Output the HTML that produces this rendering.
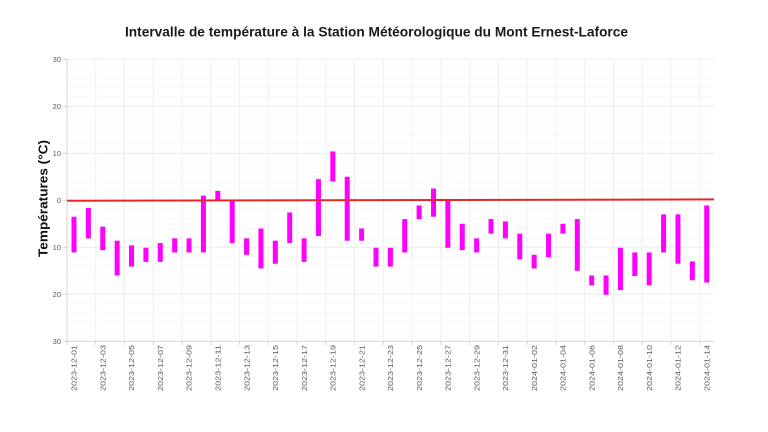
<!DOCTYPE html>
<html>
<head>
<meta charset="utf-8">
<style>
html,body{margin:0;padding:0;background:#fff;}
svg{display:block;}
text{font-family:"Liberation Sans", sans-serif;}
</style>
</head>
<body>
<svg width="768" height="432" viewBox="0 0 768 432" xmlns="http://www.w3.org/2000/svg">
<rect width="768" height="432" fill="#fff"/>
<!-- Title -->
<text x="376.5" y="36.5" text-anchor="middle" font-size="14" font-weight="bold" fill="#1a1a1a" textLength="503" lengthAdjust="spacingAndGlyphs">Intervalle de température à la Station Météorologique du Mont Ernest-Laforce</text>

<!-- minor horizontal grid -->
<g stroke="#f8f8f8" stroke-width="1">
<line x1="67" y1="68.7" x2="714" y2="68.7"/><line x1="67" y1="78.1" x2="714" y2="78.1"/><line x1="67" y1="87.5" x2="714" y2="87.5"/><line x1="67" y1="96.9" x2="714" y2="96.9"/>
<line x1="67" y1="115.7" x2="714" y2="115.7"/><line x1="67" y1="125.1" x2="714" y2="125.1"/><line x1="67" y1="134.5" x2="714" y2="134.5"/><line x1="67" y1="143.9" x2="714" y2="143.9"/>
<line x1="67" y1="162.7" x2="714" y2="162.7"/><line x1="67" y1="172.1" x2="714" y2="172.1"/><line x1="67" y1="181.5" x2="714" y2="181.5"/><line x1="67" y1="190.9" x2="714" y2="190.9"/>
<line x1="67" y1="209.7" x2="714" y2="209.7"/><line x1="67" y1="219.1" x2="714" y2="219.1"/><line x1="67" y1="228.5" x2="714" y2="228.5"/><line x1="67" y1="237.9" x2="714" y2="237.9"/>
<line x1="67" y1="256.7" x2="714" y2="256.7"/><line x1="67" y1="266.1" x2="714" y2="266.1"/><line x1="67" y1="275.5" x2="714" y2="275.5"/><line x1="67" y1="284.9" x2="714" y2="284.9"/>
<line x1="67" y1="303.7" x2="714" y2="303.7"/><line x1="67" y1="313.1" x2="714" y2="313.1"/><line x1="67" y1="322.5" x2="714" y2="322.5"/><line x1="67" y1="331.9" x2="714" y2="331.9"/>
</g>
<!-- major horizontal grid -->
<g stroke="#ececec" stroke-width="1">
<line x1="67" y1="59.3" x2="714" y2="59.3"/>
<line x1="67" y1="106.3" x2="714" y2="106.3"/>
<line x1="67" y1="153.3" x2="714" y2="153.3"/>
<line x1="67" y1="247.3" x2="714" y2="247.3"/>
<line x1="67" y1="294.3" x2="714" y2="294.3"/>
</g>
<!-- vertical grid -->
<g stroke="#efefef" stroke-width="1">
<line x1="95.76" y1="59.3" x2="95.76" y2="341.3"/><line x1="124.52" y1="59.3" x2="124.52" y2="341.3"/><line x1="153.28" y1="59.3" x2="153.28" y2="341.3"/><line x1="182.04" y1="59.3" x2="182.04" y2="341.3"/><line x1="210.8" y1="59.3" x2="210.8" y2="341.3"/><line x1="239.56" y1="59.3" x2="239.56" y2="341.3"/><line x1="268.32" y1="59.3" x2="268.32" y2="341.3"/><line x1="297.08" y1="59.3" x2="297.08" y2="341.3"/><line x1="325.84" y1="59.3" x2="325.84" y2="341.3"/><line x1="354.6" y1="59.3" x2="354.6" y2="341.3"/><line x1="383.36" y1="59.3" x2="383.36" y2="341.3"/><line x1="412.12" y1="59.3" x2="412.12" y2="341.3"/><line x1="440.88" y1="59.3" x2="440.88" y2="341.3"/><line x1="469.64" y1="59.3" x2="469.64" y2="341.3"/><line x1="498.4" y1="59.3" x2="498.4" y2="341.3"/><line x1="527.16" y1="59.3" x2="527.16" y2="341.3"/><line x1="555.92" y1="59.3" x2="555.92" y2="341.3"/><line x1="584.68" y1="59.3" x2="584.68" y2="341.3"/><line x1="613.44" y1="59.3" x2="613.44" y2="341.3"/><line x1="642.2" y1="59.3" x2="642.2" y2="341.3"/><line x1="670.96" y1="59.3" x2="670.96" y2="341.3"/><line x1="699.72" y1="59.3" x2="699.72" y2="341.3"/>
</g>
<!-- axes -->
<g stroke="#d4d4d4" stroke-width="1">
<line x1="67" y1="59.3" x2="67" y2="341.3"/>
<line x1="67" y1="341.3" x2="714" y2="341.3"/>
<line x1="63" y1="59.3" x2="67" y2="59.3"/><line x1="63" y1="106.3" x2="67" y2="106.3"/><line x1="63" y1="153.3" x2="67" y2="153.3"/><line x1="63" y1="200.3" x2="67" y2="200.3"/><line x1="63" y1="247.3" x2="67" y2="247.3"/><line x1="63" y1="294.3" x2="67" y2="294.3"/><line x1="63" y1="341.3" x2="67" y2="341.3"/>
<line x1="67" y1="341.3" x2="67" y2="345"/><line x1="95.76" y1="341.3" x2="95.76" y2="345"/><line x1="124.52" y1="341.3" x2="124.52" y2="345"/><line x1="153.28" y1="341.3" x2="153.28" y2="345"/><line x1="182.04" y1="341.3" x2="182.04" y2="345"/><line x1="210.8" y1="341.3" x2="210.8" y2="345"/><line x1="239.56" y1="341.3" x2="239.56" y2="345"/><line x1="268.32" y1="341.3" x2="268.32" y2="345"/><line x1="297.08" y1="341.3" x2="297.08" y2="345"/><line x1="325.84" y1="341.3" x2="325.84" y2="345"/><line x1="354.6" y1="341.3" x2="354.6" y2="345"/><line x1="383.36" y1="341.3" x2="383.36" y2="345"/><line x1="412.12" y1="341.3" x2="412.12" y2="345"/><line x1="440.88" y1="341.3" x2="440.88" y2="345"/><line x1="469.64" y1="341.3" x2="469.64" y2="345"/><line x1="498.4" y1="341.3" x2="498.4" y2="345"/><line x1="527.16" y1="341.3" x2="527.16" y2="345"/><line x1="555.92" y1="341.3" x2="555.92" y2="345"/><line x1="584.68" y1="341.3" x2="584.68" y2="345"/><line x1="613.44" y1="341.3" x2="613.44" y2="345"/><line x1="642.2" y1="341.3" x2="642.2" y2="345"/><line x1="670.96" y1="341.3" x2="670.96" y2="345"/><line x1="699.72" y1="341.3" x2="699.72" y2="345"/>
</g>
<!-- y labels -->
<g font-size="7.5" fill="#595959" text-anchor="end">
<text x="61" y="62">30</text>
<text x="61" y="109">20</text>
<text x="61" y="156">10</text>
<text x="61" y="203">0</text>
<text x="61" y="250">10</text>
<text x="61" y="297">20</text>
<text x="61" y="344">30</text>
</g>
<!-- y title -->
<text transform="translate(47.5,198.5) rotate(-90)" text-anchor="middle" font-size="13" font-weight="bold" fill="#111" textLength="117" lengthAdjust="spacingAndGlyphs">Températures  (°C)</text>

<!-- bars -->
<g fill="#ff00ff">
<rect x="71.5" y="216.75" width="5" height="35.7"/>
<rect x="85.88" y="207.82" width="5" height="30.55"/>
<rect x="100.26" y="226.62" width="5" height="23.5"/>
<rect x="114.64" y="240.72" width="5" height="34.78"/>
<rect x="129.02" y="245.42" width="5" height="21.15"/>
<rect x="143.4" y="247.77" width="5" height="14.1"/>
<rect x="157.78" y="243.07" width="5" height="18.8"/>
<rect x="172.16" y="238.37" width="5" height="14.1"/>
<rect x="186.54" y="238.37" width="5" height="14.1"/>
<rect x="200.92" y="195.6" width="5" height="56.87"/>
<rect x="215.3" y="190.9" width="5" height="9.4"/>
<rect x="229.68" y="200.3" width="5" height="42.77"/>
<rect x="244.06" y="238.37" width="5" height="16.45"/>
<rect x="258.44" y="228.5" width="5" height="39.95"/>
<rect x="272.82" y="240.72" width="5" height="23.03"/>
<rect x="287.2" y="212.52" width="5" height="30.55"/>
<rect x="301.58" y="238.37" width="5" height="23.5"/>
<rect x="315.96" y="179.15" width="5" height="56.87"/>
<rect x="330.34" y="151.42" width="5" height="30.08"/>
<rect x="344.72" y="176.8" width="5" height="63.92"/>
<rect x="359.1" y="228.5" width="5" height="12.22"/>
<rect x="373.48" y="247.77" width="5" height="18.8"/>
<rect x="387.86" y="247.77" width="5" height="18.8"/>
<rect x="402.24" y="219.1" width="5" height="33.37"/>
<rect x="416.62" y="205.47" width="5" height="13.63"/>
<rect x="431.0" y="188.55" width="5" height="28.2"/>
<rect x="445.38" y="200.3" width="5" height="47.47"/>
<rect x="459.76" y="223.8" width="5" height="26.32"/>
<rect x="474.14" y="238.37" width="5" height="14.1"/>
<rect x="488.52" y="219.1" width="5" height="14.57"/>
<rect x="502.9" y="221.45" width="5" height="16.92"/>
<rect x="517.28" y="233.67" width="5" height="25.85"/>
<rect x="531.66" y="254.82" width="5" height="13.63"/>
<rect x="546.04" y="233.67" width="5" height="23.5"/>
<rect x="560.42" y="223.8" width="5" height="9.87"/>
<rect x="574.8" y="219.1" width="5" height="51.7"/>
<rect x="589.18" y="275.5" width="5" height="9.87"/>
<rect x="603.56" y="275.5" width="5" height="19.27"/>
<rect x="617.94" y="247.77" width="5" height="42.3"/>
<rect x="632.32" y="252.47" width="5" height="23.5"/>
<rect x="646.7" y="252.47" width="5" height="32.9"/>
<rect x="661.08" y="214.4" width="5" height="38.07"/>
<rect x="675.46" y="214.4" width="5" height="49.35"/>
<rect x="689.84" y="261.4" width="5" height="18.8"/>
<rect x="704.22" y="205.47" width="5" height="77.08"/>
</g>

<!-- red trend line -->
<line x1="67" y1="200.8" x2="714" y2="199.4" stroke="#e3262b" stroke-width="2"/>

<!-- x labels -->
<g font-size="7.5" fill="#595959" text-anchor="end">
<text transform="translate(76.7,345) rotate(-90)" textLength="46" lengthAdjust="spacingAndGlyphs">2023-12-01</text>
<text transform="translate(105.46,345) rotate(-90)" textLength="46" lengthAdjust="spacingAndGlyphs">2023-12-03</text>
<text transform="translate(134.22,345) rotate(-90)" textLength="46" lengthAdjust="spacingAndGlyphs">2023-12-05</text>
<text transform="translate(162.98,345) rotate(-90)" textLength="46" lengthAdjust="spacingAndGlyphs">2023-12-07</text>
<text transform="translate(191.74,345) rotate(-90)" textLength="46" lengthAdjust="spacingAndGlyphs">2023-12-09</text>
<text transform="translate(220.5,345) rotate(-90)" textLength="46" lengthAdjust="spacingAndGlyphs">2023-12-11</text>
<text transform="translate(249.26,345) rotate(-90)" textLength="46" lengthAdjust="spacingAndGlyphs">2023-12-13</text>
<text transform="translate(278.02,345) rotate(-90)" textLength="46" lengthAdjust="spacingAndGlyphs">2023-12-15</text>
<text transform="translate(306.78,345) rotate(-90)" textLength="46" lengthAdjust="spacingAndGlyphs">2023-12-17</text>
<text transform="translate(335.54,345) rotate(-90)" textLength="46" lengthAdjust="spacingAndGlyphs">2023-12-19</text>
<text transform="translate(364.3,345) rotate(-90)" textLength="46" lengthAdjust="spacingAndGlyphs">2023-12-21</text>
<text transform="translate(393.06,345) rotate(-90)" textLength="46" lengthAdjust="spacingAndGlyphs">2023-12-23</text>
<text transform="translate(421.82,345) rotate(-90)" textLength="46" lengthAdjust="spacingAndGlyphs">2023-12-25</text>
<text transform="translate(450.58,345) rotate(-90)" textLength="46" lengthAdjust="spacingAndGlyphs">2023-12-27</text>
<text transform="translate(479.34,345) rotate(-90)" textLength="46" lengthAdjust="spacingAndGlyphs">2023-12-29</text>
<text transform="translate(508.1,345) rotate(-90)" textLength="46" lengthAdjust="spacingAndGlyphs">2023-12-31</text>
<text transform="translate(536.86,345) rotate(-90)" textLength="46" lengthAdjust="spacingAndGlyphs">2024-01-02</text>
<text transform="translate(565.62,345) rotate(-90)" textLength="46" lengthAdjust="spacingAndGlyphs">2024-01-04</text>
<text transform="translate(594.38,345) rotate(-90)" textLength="46" lengthAdjust="spacingAndGlyphs">2024-01-06</text>
<text transform="translate(623.14,345) rotate(-90)" textLength="46" lengthAdjust="spacingAndGlyphs">2024-01-08</text>
<text transform="translate(651.9,345) rotate(-90)" textLength="46" lengthAdjust="spacingAndGlyphs">2024-01-10</text>
<text transform="translate(680.66,345) rotate(-90)" textLength="46" lengthAdjust="spacingAndGlyphs">2024-01-12</text>
<text transform="translate(709.42,345) rotate(-90)" textLength="46" lengthAdjust="spacingAndGlyphs">2024-01-14</text>
</g>
</svg>
</body>
</html>
